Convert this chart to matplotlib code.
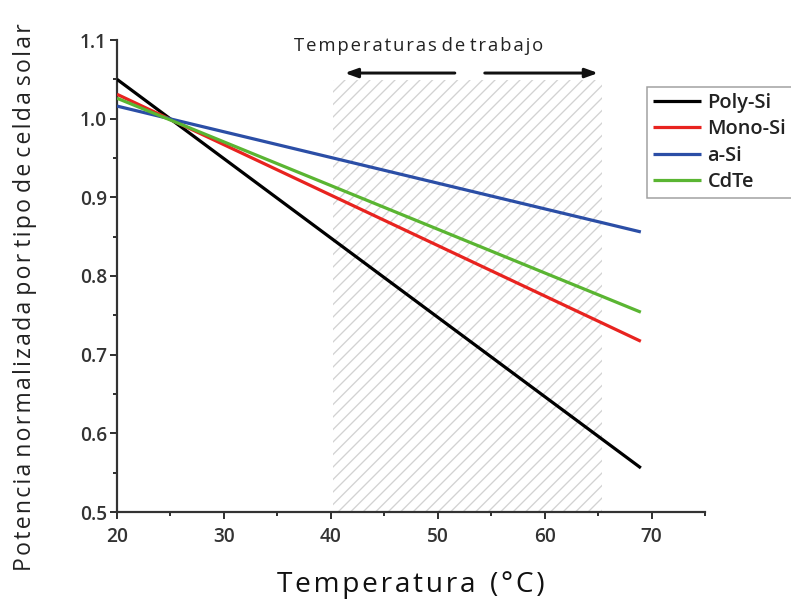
import matplotlib
matplotlib.use("Agg")
import matplotlib.pyplot as plt
from matplotlib.ticker import MultipleLocator

# ---- data ----
temps = [20, 69]
poly_si = [1.050, 0.556]
mono_si = [1.031, 0.717]
a_si = [1.016, 0.856]
cdte = [1.026, 0.754]
series_names = ["Poly-Si", "Mono-Si", "a-Si", "CdTe"]
series_colors = ["#000000", "#e8231f", "#2b4ea6", "#5ab532"]
work_range = [40.2, 65.4]
work_top = 1.049
xticks = [20, 30, 40, 50, 60, 70]
yticks = [0.5, 0.6, 0.7, 0.8, 0.9, 1.0, 1.1]

DPI = 150
def pt(px):
    return px * 72.0 / DPI

HS = "\u200a"  # hair space for letter spacing
def spaced(s):
    return HS.join(s)

plt.rcParams['font.family'] = ['Open Sans', 'DejaVu Sans']
plt.rcParams['hatch.color'] = '#d2d2d2'
plt.rcParams['hatch.linewidth'] = pt(1.3)

fig = plt.figure(figsize=(791 / DPI, 607 / DPI), dpi=DPI)
ax = fig.add_axes([117 / 791, 1 - 512 / 607, (705 - 117) / 791, (512 - 40) / 607])

ax.set_xlim(20, 75)
ax.set_ylim(0.5, 1.1)

# hatched working-temperature region
ax.fill_between(work_range, [0.5, 0.5], [work_top, work_top], facecolor='none',
                edgecolor='#d2d2d2', hatch='////', linewidth=0, zorder=1)

for vals, name, col in zip([poly_si, mono_si, a_si, cdte], series_names, series_colors):
    ax.plot(temps, vals, color=col, lw=pt(3.2), label=name, zorder=3, solid_capstyle='butt')

# arrows and annotation
arrow_y = 1.058
astyle = '-|>,head_length=0.5,head_width=0.18'
ax.annotate('', xy=(41.3, arrow_y), xytext=(51.6, arrow_y),
            arrowprops=dict(arrowstyle=astyle, color='#111111',
                            lw=pt(3.0), shrinkA=0, shrinkB=0), annotation_clip=False)
ax.annotate('', xy=(65.0, arrow_y), xytext=(54.4, arrow_y),
            arrowprops=dict(arrowstyle=astyle, color='#111111',
                            lw=pt(3.0), shrinkA=0, shrinkB=0), annotation_clip=False)
ax.text(48.2, 1.093, " ".join(spaced(w) for w in "Temperaturas de trabajo".split()),
        ha='center', va='center', fontsize=pt(18.5), color='#222222', clip_on=False)

# spines / ticks
for s in ['top', 'right']:
    ax.spines[s].set_visible(False)
for s in ['left', 'bottom']:
    ax.spines[s].set_color('#333333')
    ax.spines[s].set_linewidth(pt(2.2))

ax.set_xticks(xticks)
ax.set_yticks(yticks)
ax.set_yticklabels([f"{v:.1f}" for v in yticks])
ax.xaxis.set_minor_locator(MultipleLocator(5))
ax.yaxis.set_minor_locator(MultipleLocator(0.05))
ax.tick_params(which='major', direction='out', length=pt(7), width=pt(2), color='#333333',
               labelsize=pt(19), labelcolor='#333333')
ax.tick_params(axis='y', which='major', pad=pt(3))
ax.tick_params(axis='x', which='major', pad=pt(8))
ax.tick_params(which='minor', direction='out', length=pt(4), width=pt(2), color='#333333')
for lab in ax.get_xticklabels() + ax.get_yticklabels():
    lab.set_fontweight('semibold')

fig.text(411 / 791, 1 - 585 / 607, spaced("Temperatura") + "  " + spaced("(°C)"),
         ha='center', va='center', fontsize=pt(28), color='#111111')
fig.text(25 / 791, 1 - 297 / 607,
         " ".join(spaced(w) for w in "Potencia normalizada por tipo de celda solar".split()),
         ha='center', va='center', rotation=90, fontsize=pt(23), color='#222222')

leg = ax.legend(loc='upper left', bbox_to_anchor=(647 / 791, 1 - 87 / 607),
                bbox_transform=fig.transFigure, frameon=True, fancybox=False,
                fontsize=pt(20), handlelength=2.4, handletextpad=0.35,
                labelspacing=0.33, borderpad=0.28, borderaxespad=0)
leg.get_frame().set_edgecolor('#888888')
leg.get_frame().set_linewidth(pt(1.5))
for t in leg.get_texts():
    t.set_color('#222222')
    t.set_fontweight('semibold')

fig.savefig('out.png', dpi=DPI)
